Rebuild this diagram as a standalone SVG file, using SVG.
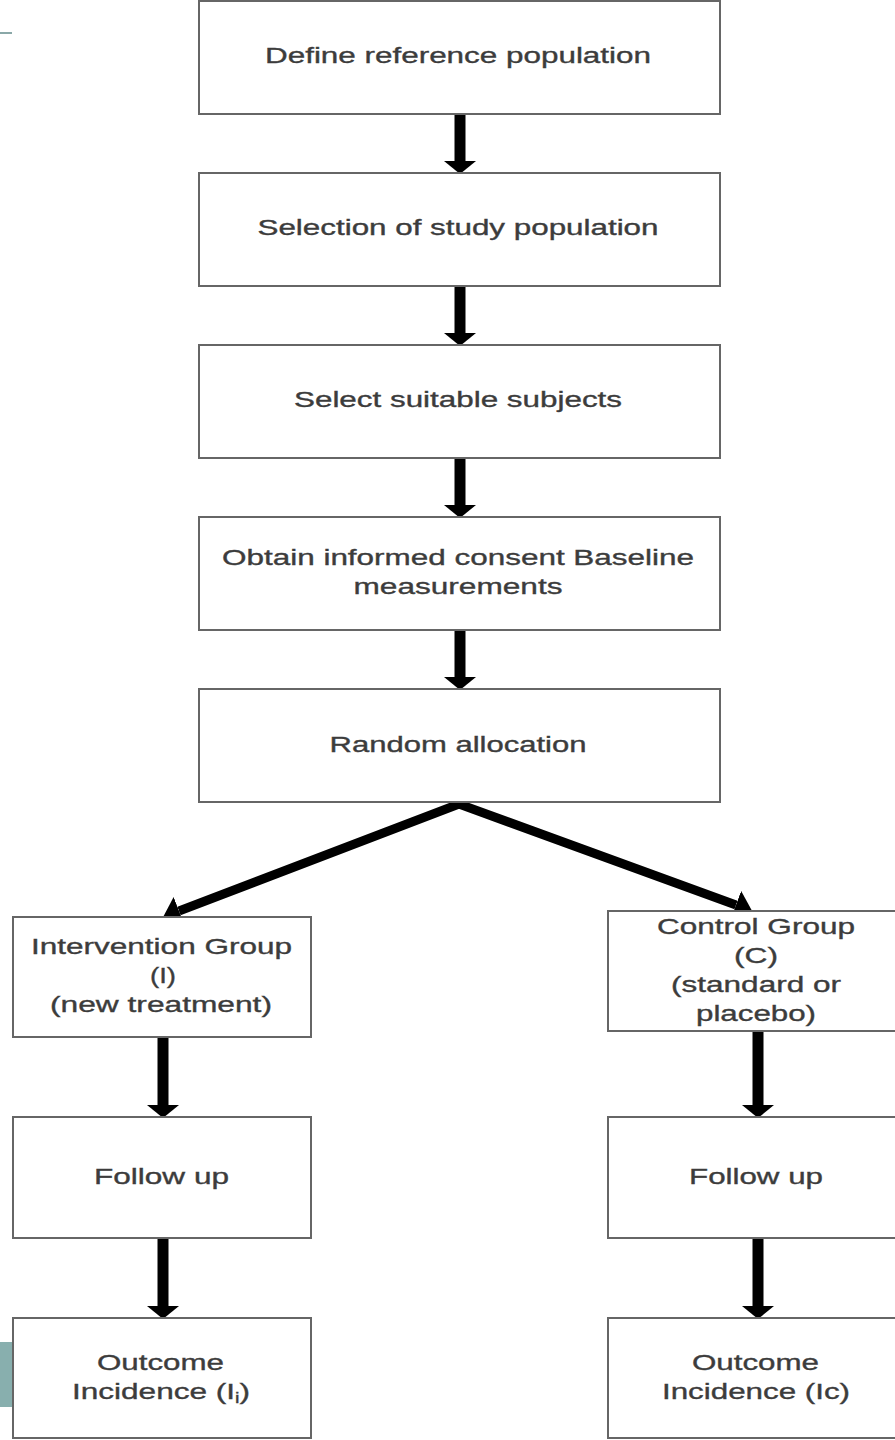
<svg xmlns="http://www.w3.org/2000/svg" width="895" height="1440" viewBox="0 0 895 1440">
  <style>
    .box { fill: #ffffff; stroke: #666666; stroke-width: 2; }
    .lbl { font-family: "Liberation Sans", Arial, sans-serif; font-size: 22px; fill: #3c3c3c; stroke: #3c3c3c; stroke-width: 0.35; text-anchor: middle; }
    .conn { stroke: #000000; fill: none; }
    .v { stroke-width: 11; }
    .d { stroke-width: 9; stroke-linejoin: miter; }
  </style>
  <defs>
    <marker id="ah" viewBox="0 -16 13 32" markerUnits="userSpaceOnUse" markerWidth="13" markerHeight="32" refX="0" refY="0" orient="auto-start-reverse">
      <path d="M0,-16 L13,0 L0,16 Z" fill="#000000"/>
    </marker>
    <marker id="ahd" viewBox="0 -15 17 30" markerUnits="userSpaceOnUse" markerWidth="17" markerHeight="30" refX="0" refY="0" orient="auto-start-reverse">
      <path d="M0,-15 L17,0 L0,15 Z" fill="#000000"/>
    </marker>
  </defs>

  <!-- slide decorations -->
  <rect x="0" y="32" width="12" height="2" fill="#8aa8a8"/>
  <rect x="0" y="1342" width="14" height="65" fill="#88afae"/>

  <g id="connectors">
    <line class="conn v" x1="460" y1="115" x2="460" y2="161" marker-end="url(#ah)"/>
    <line class="conn v" x1="460" y1="287" x2="460" y2="333" marker-end="url(#ah)"/>
    <line class="conn v" x1="460" y1="459" x2="460" y2="505" marker-end="url(#ah)"/>
    <line class="conn v" x1="460" y1="631" x2="460" y2="677" marker-end="url(#ah)"/>
    <path class="conn d" d="M179,911 L459,804 L736,905" marker-start="url(#ahd)" marker-end="url(#ahd)"/>
    <line class="conn v" x1="163" y1="1038" x2="163" y2="1105" marker-end="url(#ah)"/>
    <line class="conn v" x1="163" y1="1239" x2="163" y2="1306" marker-end="url(#ah)"/>
    <line class="conn v" x1="758" y1="1032" x2="758" y2="1105" marker-end="url(#ah)"/>
    <line class="conn v" x1="758" y1="1233" x2="758" y2="1306" marker-end="url(#ah)"/>
  </g>

  <g id="n1">
    <rect class="box" x="199" y="1" width="521" height="113"/>
    <text class="lbl" x="458" y="63" textLength="386" lengthAdjust="spacingAndGlyphs">Define reference population</text>
  </g>
  <g id="n2">
    <rect class="box" x="199" y="173" width="521" height="113"/>
    <text class="lbl" x="458" y="235" textLength="401" lengthAdjust="spacingAndGlyphs">Selection of study population</text>
  </g>
  <g id="n3">
    <rect class="box" x="199" y="345" width="521" height="113"/>
    <text class="lbl" x="458" y="407" textLength="328" lengthAdjust="spacingAndGlyphs">Select suitable subjects</text>
  </g>
  <g id="n4">
    <rect class="box" x="199" y="517" width="521" height="113"/>
    <text class="lbl" x="458" y="565" textLength="472" lengthAdjust="spacingAndGlyphs">Obtain informed consent Baseline</text>
    <text class="lbl" x="458" y="594" textLength="209" lengthAdjust="spacingAndGlyphs">measurements</text>
  </g>
  <g id="n5">
    <rect class="box" x="199" y="689" width="521" height="113"/>
    <text class="lbl" x="458" y="752" textLength="257" lengthAdjust="spacingAndGlyphs">Random allocation</text>
  </g>

  <g id="n6">
    <rect class="box" x="13" y="917" width="298" height="120"/>
    <text class="lbl" x="161.5" y="954" textLength="261" lengthAdjust="spacingAndGlyphs">Intervention Group</text>
    <text class="lbl" x="163" y="983" textLength="26" lengthAdjust="spacingAndGlyphs">(I)</text>
    <text class="lbl" x="161" y="1012" textLength="222" lengthAdjust="spacingAndGlyphs">(new treatment)</text>
  </g>
  <g id="n7">
    <rect class="box" x="608" y="911" width="300" height="120"/>
    <text class="lbl" x="756" y="934" textLength="198" lengthAdjust="spacingAndGlyphs">Control Group</text>
    <text class="lbl" x="756" y="963" textLength="44" lengthAdjust="spacingAndGlyphs">(C)</text>
    <text class="lbl" x="756" y="992" textLength="170" lengthAdjust="spacingAndGlyphs">(standard or</text>
    <text class="lbl" x="756" y="1021" textLength="120" lengthAdjust="spacingAndGlyphs">placebo)</text>
  </g>

  <g id="n8">
    <rect class="box" x="13" y="1117" width="298" height="121"/>
    <text class="lbl" x="161.5" y="1184" textLength="135" lengthAdjust="spacingAndGlyphs">Follow up</text>
  </g>
  <g id="n9">
    <rect class="box" x="608" y="1117" width="300" height="121"/>
    <text class="lbl" x="756" y="1184" textLength="134" lengthAdjust="spacingAndGlyphs">Follow up</text>
  </g>

  <g id="n10">
    <rect class="box" x="13" y="1318" width="298" height="120"/>
    <text class="lbl" x="160.5" y="1370" textLength="127" lengthAdjust="spacingAndGlyphs">Outcome</text>
    <text class="lbl" x="161" y="1399" textLength="178" lengthAdjust="spacingAndGlyphs">Incidence (I<tspan font-size="14" dy="4">i</tspan><tspan dy="-4">)</tspan></text>
  </g>
  <g id="n11">
    <rect class="box" x="608" y="1318" width="300" height="120"/>
    <text class="lbl" x="755.5" y="1370" textLength="127" lengthAdjust="spacingAndGlyphs">Outcome</text>
    <text class="lbl" x="756" y="1399" textLength="188" lengthAdjust="spacingAndGlyphs">Incidence (Ic)</text>
  </g>
</svg>
